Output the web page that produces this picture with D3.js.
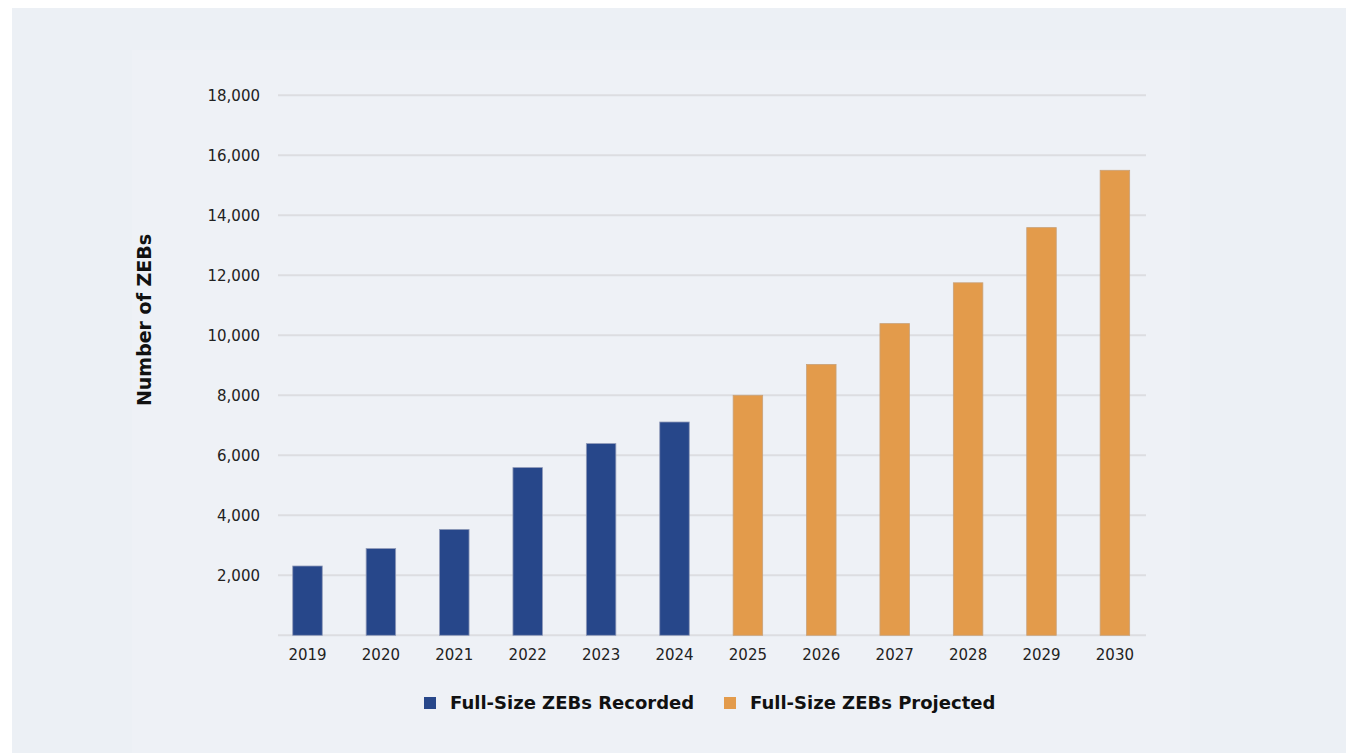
<!DOCTYPE html>
<html>
<head>
<meta charset="utf-8">
<script src="https://cdn.jsdelivr.net/npm/d3@7"></script>
<style>
  html, body { margin: 0; padding: 0; background: #ffffff; }
  svg { display: block; }
</style>
</head>
<body>
<svg id="chart" width="1346" height="753"></svg>
<script>
// Full-size zero-emission buses, recorded and projected
const years = ["2019","2020","2021","2022","2023","2024","2025","2026","2027","2028","2029","2030"];
const recorded = [2310, 2890, 3530, 5590, 6390, 7110, null, null, null, null, null, null];
const projected = [null, null, null, null, null, null, 8000, 9030, 10390, 11750, 13590, 15500];
const yTicks = [2000, 4000, 6000, 8000, 10000, 12000, 14000, 16000, 18000];
const seriesNames = ["Full-Size ZEBs Recorded", "Full-Size ZEBs Projected"];
const seriesColors = ["#27478a", "#e39b4b"];
const yTitle = "Number of ZEBs";

const svg = d3.select("#chart");
const W = 1346, H = 753;

// panel backgrounds
svg.append("rect").attr("x", 12).attr("y", 8).attr("width", W - 12).attr("height", H - 8)
  .attr("fill", "#ecf0f5");
svg.append("rect").attr("x", 132).attr("y", 50).attr("width", 1058).attr("height", H - 50)
  .attr("fill", "#eef1f6");

const x = d3.scaleBand().domain(years).range([270.8, 1151.6]).paddingInner(0.598).paddingOuter(0.299);
const y = d3.scaleLinear().domain([0, 18000]).range([635.3, 95.3]);

const gridX0 = 278, gridX1 = 1146;

// horizontal gridlines
svg.append("g").selectAll("line").data(yTicks).join("line")
  .attr("x1", gridX0).attr("x2", gridX1)
  .attr("y1", d => y(d)).attr("y2", d => y(d))
  .attr("stroke", "#dcdde1").attr("stroke-width", 2);

// baseline
svg.append("line").attr("x1", gridX0).attr("x2", gridX1)
  .attr("y1", y(0)).attr("y2", y(0))
  .attr("stroke", "#dcdde1").attr("stroke-width", 2);

// y axis labels
const yAxis = d3.axisLeft(y).tickValues(yTicks).tickSize(0).tickPadding(0)
  .tickFormat(d3.format(","));
const gy = svg.append("g").attr("transform", "translate(260,0)").call(yAxis);
gy.select(".domain").remove();
gy.selectAll("text")
  .attr("font-family", "'DejaVu Sans', sans-serif")
  .attr("font-size", 15).attr("fill", "#222").attr("dy", "0.35em");

// x axis labels
const xAxis = d3.axisBottom(x).tickSize(0).tickPadding(0);
const gx = svg.append("g").attr("transform", "translate(0,649)").call(xAxis);
gx.select(".domain").remove();
gx.selectAll("text")
  .attr("font-family", "'DejaVu Sans', sans-serif")
  .attr("font-size", 15).attr("fill", "#222").attr("dy", "0.71em");

// bars
const series = [recorded, projected];
series.forEach((vals, si) => {
  svg.append("g").selectAll("rect")
    .data(years.map((yr, i) => ({ yr, v: vals[i] })).filter(d => d.v != null))
    .join("rect")
    .attr("x", d => x(d.yr))
    .attr("width", x.bandwidth())
    .attr("y", d => y(d.v))
    .attr("height", d => y(0) - y(d.v))
    .attr("fill", seriesColors[si])
    .attr("stroke", si === 0 ? "#8f9ab8" : "#c9a27a")
    .attr("stroke-width", 0.8);
});

// y axis title
svg.append("text")
  .attr("transform", "translate(151,320) rotate(-90)")
  .attr("text-anchor", "middle")
  .attr("font-family", "'DejaVu Sans', sans-serif")
  .attr("font-weight", "bold").attr("font-size", 19).attr("fill", "#111")
  .text(yTitle);

// legend
const legendItems = [
  { name: seriesNames[0], color: seriesColors[0], x: 424 },
  { name: seriesNames[1], color: seriesColors[1], x: 724 }
];
const lg = svg.append("g");
legendItems.forEach(it => {
  lg.append("rect").attr("x", it.x).attr("y", 697).attr("width", 12).attr("height", 12)
    .attr("fill", it.color);
  lg.append("text").attr("x", it.x + 26).attr("y", 709)
    .attr("font-family", "'DejaVu Sans', sans-serif")
    .attr("font-weight", "bold").attr("font-size", 18).attr("fill", "#111")
    .text(it.name);
});
</script>
</body>
</html>
